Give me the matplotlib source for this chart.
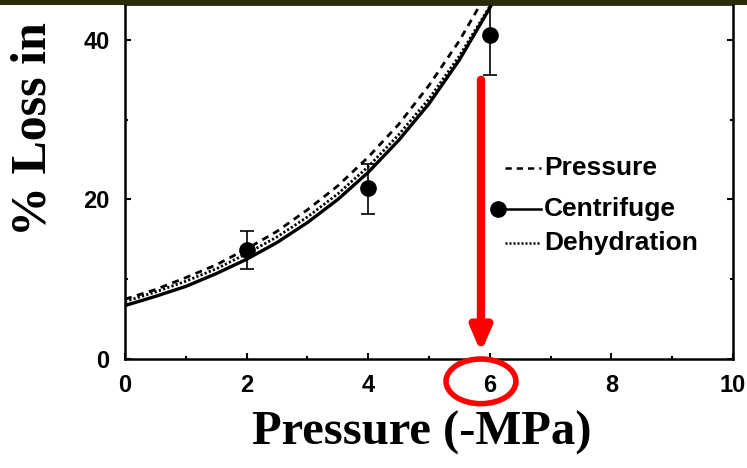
import numpy as np
import matplotlib
matplotlib.use("Agg")
import matplotlib.pyplot as plt
from matplotlib.patches import Ellipse, Rectangle
from matplotlib.ticker import MultipleLocator

# fitted curves, every 0.5 MPa
curve_x = [0.0, 0.5, 1.0, 1.5, 2.0, 2.5, 3.0, 3.5, 4.0, 4.5, 5.0, 5.5, 6.0, 6.5]
pressure_y = [7.5, 8.7, 10.2, 11.8, 13.8, 16.0, 18.7, 21.7, 25.3, 29.4, 34.3, 39.9, 46.5, 54.0]
centrifuge_y = [6.7, 7.85, 9.1, 10.7, 12.5, 14.6, 17.1, 20.0, 23.4, 27.4, 32.0, 37.5, 44.0, 51.5]
dehydration_y = [7.2, 8.4, 9.75, 11.3, 13.2, 15.3, 17.8, 20.7, 24.1, 28.1, 32.6, 38.0, 44.2, 51.5]

# centrifuge measurements
pts_x = [2, 4, 6]
pts_y = [13.7, 21.4, 40.6]
err_lo = [2.4, 3.2, 5.0]
err_hi = [2.3, 3.0, 5.0]

x_ticks = [0, 2, 4, 6, 8, 10]
y_ticks = [0, 20, 40]

fig = plt.figure(figsize=(7.47, 4.68), dpi=100)
ax = fig.add_axes([125 / 747, 1 - 359 / 468, (733 - 125) / 747, (359 - 4) / 468])

ax.plot(curve_x, pressure_y, color="black", lw=2.0, linestyle=(0, (2.5, 2.0)))
ax.plot(curve_x, dehydration_y, color="black", lw=2.0, linestyle=(0, (0.8, 0.8)))
ax.plot(curve_x, centrifuge_y, color="black", lw=2.4)
ax.errorbar(pts_x, pts_y, yerr=[err_lo, err_hi], fmt="o", color="black",
            ms=11, elinewidth=1.2, capsize=5, capthick=1.2, zorder=5)

ax.set_xlim(0, 10)
ax.set_ylim(0, 44.5)
ax.set_xticks(x_ticks)
ax.set_yticks(y_ticks)
ax.xaxis.set_minor_locator(MultipleLocator(1))
ax.yaxis.set_minor_locator(MultipleLocator(10))
ax.tick_params(which="both", direction="in", right=True, top=False, width=1.5)
ax.tick_params(which="major", length=4, pad=11)
ax.tick_params(which="minor", length=2)
for sp in ax.spines.values():
    sp.set_linewidth(1.8)
for lab in ax.get_xticklabels() + ax.get_yticklabels():
    lab.set_fontfamily("Liberation Sans")
    lab.set_fontweight("bold")
    lab.set_fontsize(17)

fig.text(422 / 747, 1 - 445 / 468, "Pressure (-MPa)", family="Liberation Serif",
         fontweight="bold", fontsize=35, ha="center", va="baseline")
fig.text(34 / 747, 1 - 236 / 468, "% Loss in", family="Liberation Serif",
         fontweight="bold", fontsize=36, rotation=90, ha="center", va="bottom")

# legend drawn by hand
leg_font = dict(family="Liberation Sans", fontweight="bold", fontsize=19,
                va="center", ha="left", transform=ax.transAxes)


def ax_xy(px, py):
    return (px - 125) / (733 - 125), (359 - py) / (359 - 4)


x0, _ = ax_xy(505, 0)
x1, _ = ax_xy(541, 0)
xt, _ = ax_xy(544, 0)
for py, label, ls in [(168, "Pressure", (0, (2.5, 2.0))),
                      (209, "Centrifuge", "-"),
                      (243, "Dehydration", (0, (0.8, 0.8)))]:
    _, yy = ax_xy(0, py)
    ax.plot([x0, x1], [yy, yy], color="black", lw=1.8, linestyle=ls,
            transform=ax.transAxes, clip_on=False)
    ax.text(xt, yy, label, **leg_font)
mx, my = ax_xy(498, 209)
ax.plot([mx], [my], "o", color="black", ms=11, transform=ax.transAxes, clip_on=False)

# red arrow and circle
ax.annotate("", xy=(5.855, 0.8), xytext=(5.855, 35.0),
            arrowprops=dict(arrowstyle="-|>,head_length=1.4,head_width=0.6",
                            color="red", lw=6, shrinkA=0, shrinkB=0))
ax.add_patch(Ellipse((5.855, -2.8), 1.15, 5.6, fill=False, edgecolor="red",
                     lw=4, clip_on=False, zorder=6))

# dark banner strip across the top
fig.patches.append(Rectangle((0, 1 - 5 / 468), 1, 5 / 468, transform=fig.transFigure,
                             facecolor="#2b2c0c", edgecolor="none", zorder=10))

fig.savefig("out.png", dpi=100)
